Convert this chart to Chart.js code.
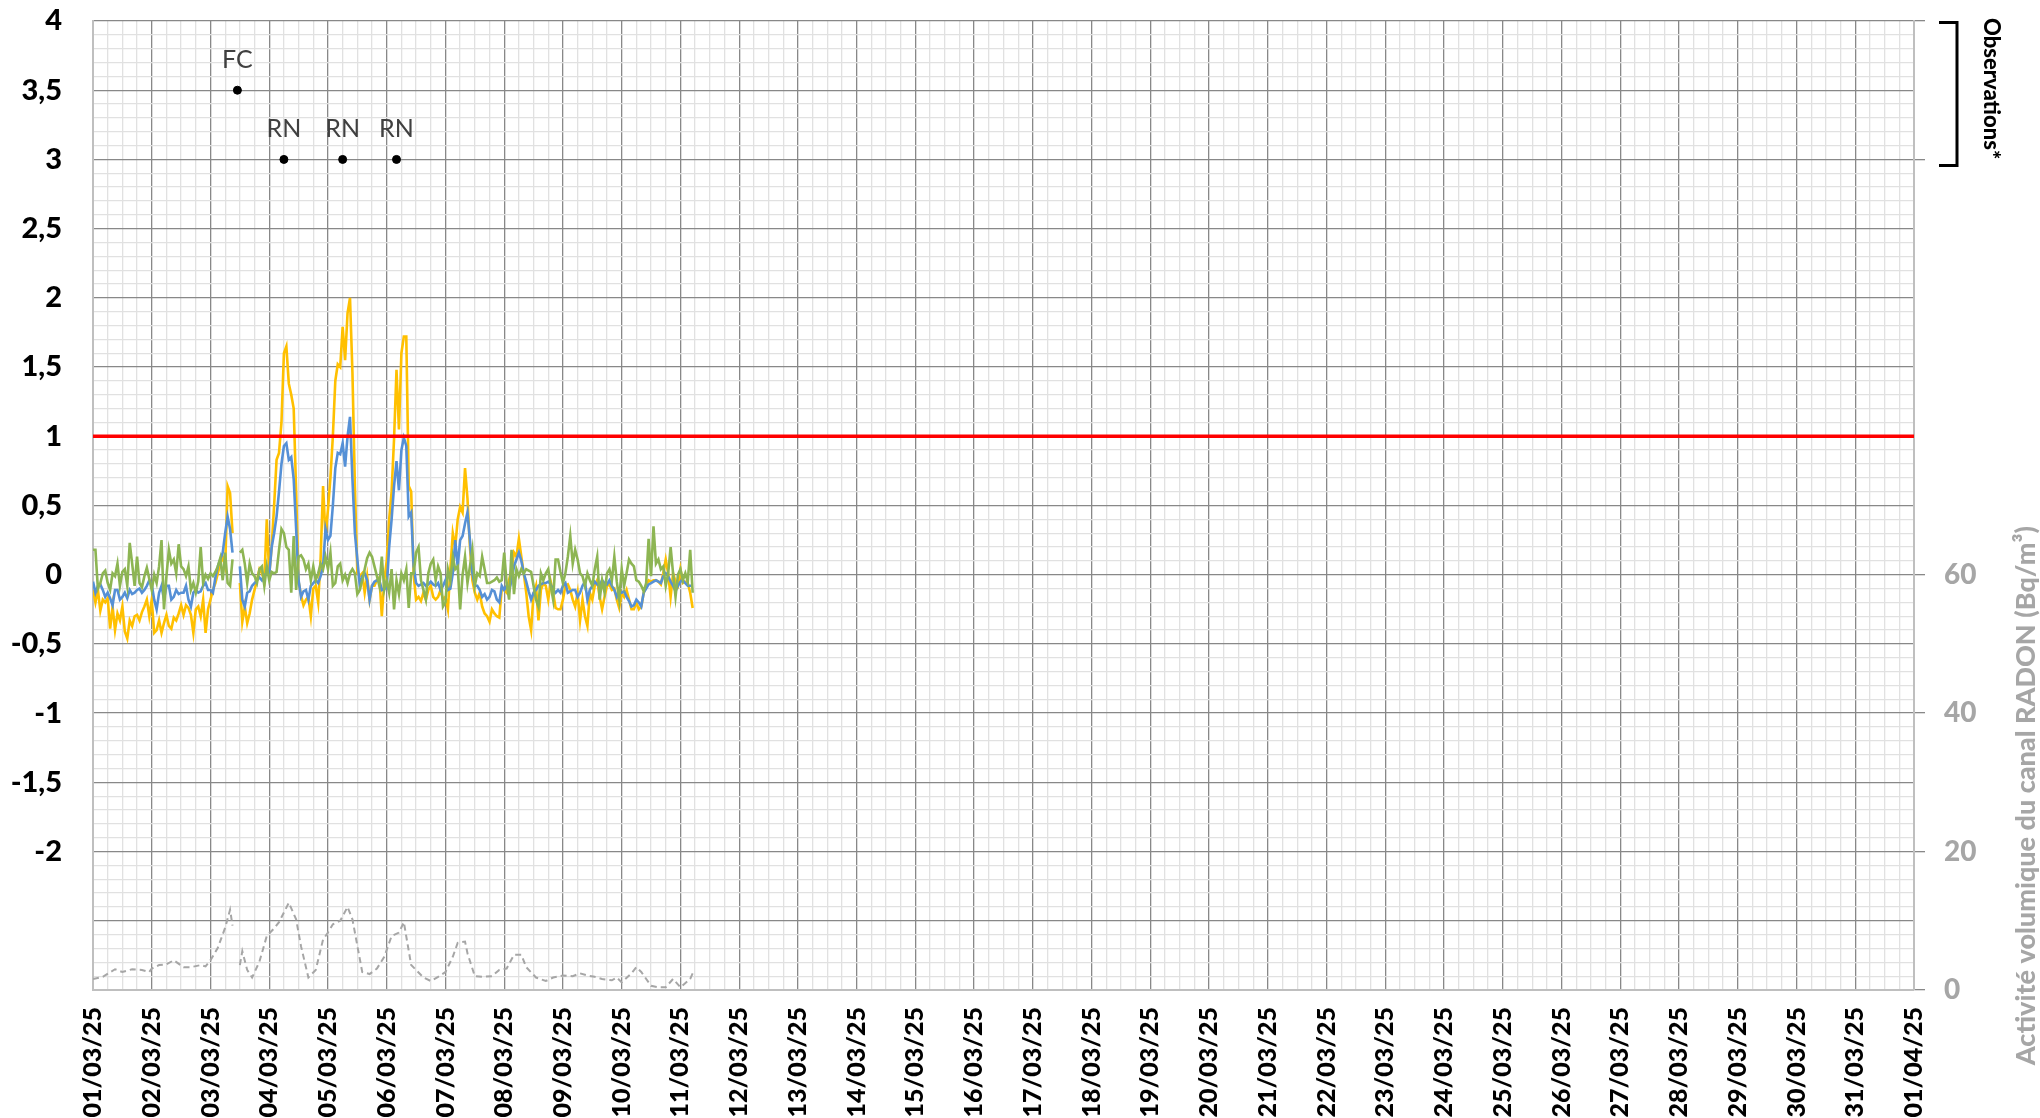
<!DOCTYPE html>
<html lang="fr">
<head>
<meta charset="utf-8">
<title>Activité volumique – mars 2025</title>
<script src="https://cdn.jsdelivr.net/npm/chart.js@4.4.1/dist/chart.umd.min.js"></script>
<style>
  html, body { margin: 0; padding: 0; background: #fff; }
</style>
</head>
<body>
<canvas id="chart" width="2040" height="1118"></canvas>
<script>
// x axis: hours since 01/03/25 00:00, one value per hour (null = data gap)
const HOURS_MAX = 744; // 01/04/25

const yellowSeries = [
  -0.11,-0.20,-0.11,-0.26,-0.18,-0.20,-0.17,-0.39,-0.23,-0.40,-0.28,-0.33,-0.23,-0.41,-0.46,-0.33,-0.37,-0.30,-0.29,-0.33,-0.27,-0.23,-0.18,-0.30,
  -0.18,-0.42,-0.40,-0.33,-0.42,-0.35,-0.29,-0.37,-0.39,-0.31,-0.33,-0.28,-0.22,-0.29,-0.22,-0.24,-0.29,-0.42,-0.25,-0.23,-0.30,-0.18,-0.42,-0.25,
  -0.18,-0.11,-0.06,0.01,0.08,0.13,0.06,0.64,0.59,0.30,null,null,-0.06,-0.34,-0.23,-0.35,-0.28,-0.18,-0.11,-0.04,0.04,0.01,-0.04,0.40,
  0.0,0.2,0.5,0.83,0.88,1.1,1.6,1.65,1.38,1.3,1.2,0.6,-0.05,-0.15,-0.22,-0.18,-0.16,-0.3,-0.1,-0.08,-0.2,0.12,0.64,0.28,
  0.47,0.7,1.0,1.4,1.52,1.5,1.79,1.55,1.89,2.0,1.46,0.64,0.01,-0.01,0.01,-0.13,-0.01,-0.18,-0.08,-0.08,-0.04,-0.02,-0.3,-0.04,
  0.1,0.4,0.6,0.98,1.48,1.05,1.6,1.72,1.72,0.64,0.6,0.0,-0.18,-0.16,-0.19,-0.13,-0.18,-0.11,-0.08,-0.16,-0.18,-0.16,-0.11,-0.18,
  -0.16,-0.25,0.04,0.3,0.2,0.4,0.49,0.45,0.77,0.55,0.2,-0.04,-0.13,-0.18,-0.13,-0.23,-0.28,-0.3,-0.34,-0.25,-0.28,-0.3,-0.31,-0.1,
  -0.11,-0.13,-0.04,0.04,0.16,0.13,0.26,0.13,0.01,-0.13,-0.3,-0.4,-0.14,-0.08,-0.33,-0.11,-0.06,-0.08,-0.18,-0.05,-0.13,-0.24,-0.25,-0.25,
  -0.18,-0.08,-0.07,-0.11,-0.18,-0.23,-0.13,-0.33,-0.18,-0.3,-0.37,-0.13,-0.18,-0.08,-0.04,-0.16,-0.25,-0.16,-0.08,-0.07,-0.11,-0.1,-0.18,-0.24,
  -0.13,-0.16,-0.11,-0.18,-0.25,-0.25,-0.2,-0.25,-0.23,-0.13,-0.08,-0.04,-0.05,-0.04,-0.04,-0.05,-0.07,0.01,0.11,0.01,-0.16,0.01,-0.05,-0.08,
  0.04,-0.06,-0.05,-0.06,-0.13,-0.24
];

const blueSeries = [
  -0.05,-0.13,-0.08,-0.07,-0.11,-0.16,-0.13,-0.17,-0.22,-0.11,-0.11,-0.18,-0.16,-0.13,-0.17,-0.11,-0.14,-0.13,-0.11,-0.10,-0.13,-0.11,-0.08,-0.04,
  -0.07,-0.18,-0.25,-0.13,-0.08,-0.18,-0.08,-0.08,-0.18,-0.16,-0.11,-0.14,-0.13,-0.13,-0.08,-0.18,-0.23,-0.13,-0.11,-0.13,-0.12,-0.08,-0.06,-0.11,
  -0.11,-0.13,-0.02,0.06,0.11,0.16,0.3,0.42,0.33,0.16,null,null,0.06,-0.18,-0.23,-0.13,-0.12,-0.08,-0.06,-0.04,-0.02,-0.04,0.0,0.0,
  0.0,0.2,0.3,0.42,0.6,0.8,0.93,0.95,0.83,0.85,0.69,0.33,-0.04,-0.16,-0.12,-0.11,-0.18,-0.08,-0.06,-0.04,-0.06,-0.01,0.06,0.33,
  0.25,0.28,0.5,0.77,0.88,0.87,0.95,0.78,1.0,1.14,0.69,0.3,0.11,-0.08,-0.01,0.01,-0.04,-0.18,-0.08,-0.05,-0.04,-0.04,-0.11,-0.1,
  -0.1,0.2,0.4,0.64,0.82,0.61,0.9,0.99,0.93,0.42,0.45,0.06,-0.06,-0.08,-0.07,-0.06,-0.08,-0.07,-0.05,-0.07,-0.08,-0.06,-0.11,-0.08,
  -0.04,-0.11,-0.1,0.01,0.25,0.06,0.25,0.28,0.37,0.45,0.25,0.01,-0.08,-0.08,-0.11,-0.16,-0.14,-0.18,-0.16,-0.11,-0.12,-0.18,-0.2,-0.08,
  -0.11,-0.08,-0.12,-0.04,0.06,0.11,0.16,0.1,0.01,-0.05,-0.12,-0.18,-0.13,-0.11,-0.08,-0.07,-0.06,-0.06,-0.05,-0.07,-0.11,-0.13,-0.11,-0.13,
  -0.08,-0.06,-0.13,-0.12,-0.11,-0.11,-0.16,-0.13,-0.08,-0.05,-0.18,-0.11,-0.08,-0.05,-0.07,-0.08,-0.04,-0.06,-0.07,-0.04,-0.08,-0.11,-0.16,-0.11,
  -0.13,-0.12,-0.16,-0.19,-0.23,-0.22,-0.18,-0.2,-0.23,-0.13,-0.1,-0.07,-0.06,-0.05,-0.04,-0.05,-0.06,-0.01,0.01,-0.01,-0.05,-0.08,-0.12,-0.08,
  -0.05,-0.04,-0.06,-0.08,-0.08,-0.08
];

const greenSeries = [
  0.18,0.18,-0.10,-0.06,0.01,0.03,-0.06,-0.11,0.01,-0.01,0.08,-0.08,0.02,0.04,-0.08,0.23,0.08,-0.08,0.13,-0.06,-0.09,-0.01,0.05,-0.03,
  -0.11,0.0,-0.06,0.06,0.25,-0.25,-0.01,0.18,0.08,0.11,0.01,0.22,0.06,0.04,-0.01,0.06,-0.11,-0.06,-0.13,-0.05,0.20,-0.06,0.0,-0.03,
  0.01,-0.01,0.02,0.06,0.12,-0.04,0.16,-0.06,-0.08,0.11,null,null,0.16,0.18,0.08,-0.06,0.08,0.01,-0.01,-0.06,0.04,0.06,-0.08,0.06,
  -0.04,0.02,0.01,0.02,0.18,0.33,0.3,0.2,0.18,-0.13,0.28,-0.11,0.13,0.14,0.11,0.04,0.08,-0.04,0.06,-0.04,0.01,0.08,0.04,0.13,
  0.04,0.16,-0.08,-0.06,0.06,0.08,-0.04,0.0,-0.06,0.01,0.04,0.01,-0.14,-0.11,-0.04,0.04,0.12,0.16,0.13,0.06,-0.01,-0.08,0.13,-0.11,
  -0.04,-0.13,0.04,-0.25,-0.04,-0.14,0.01,-0.04,0.04,-0.24,0.01,0.01,0.16,0.2,-0.04,-0.11,-0.18,0.01,0.08,0.11,-0.04,0.06,0.01,-0.23,
  -0.2,0.04,-0.04,0.13,0.04,0.06,-0.25,0.0,0.13,-0.06,0.06,0.18,-0.08,0.01,-0.01,0.13,0.04,-0.06,-0.06,-0.05,-0.04,-0.02,-0.05,-0.04,
  0.16,-0.06,-0.18,0.18,-0.14,0.04,-0.01,0.04,0.01,0.04,0.03,0.02,-0.08,-0.18,-0.23,0.01,-0.04,0.01,0.04,-0.08,-0.18,0.11,0.11,0.02,
  -0.06,0.01,0.13,0.28,0.08,0.18,0.11,0.01,-0.01,-0.08,0.01,-0.04,-0.08,0.04,0.13,-0.18,-0.04,-0.13,0.01,0.04,-0.04,0.13,-0.05,-0.18,
  0.04,-0.08,0.01,0.11,0.08,0.06,-0.04,-0.05,-0.08,-0.12,-0.06,0.26,-0.01,0.35,0.08,0.11,0.04,0.06,-0.08,0.01,0.2,0.01,-0.16,0.0,
  0.04,-0.04,0.01,-0.05,0.18,-0.13
];

// radon channel (right axis, Bq/m3), read at irregular hours
const radonHours = [
  0,4,9,12,16,20,23,24,27,30,33,37,40,44,46,48,51,54,56,57,
  59,60,61,63,65,68,71,74,76,80,83,85,88,91,94,96,98,101,104,106,
  110,113,116,119,122,125,127,130,132,135,138,141,144,147,149,152,153,156,159,163,
  166,169,172,175,177,181,185,188,192,196,199,202,205,208,212,214,216,220,222,224,
  228,231,234,237,240,244,245
];
const radonValues = [
  1.6,1.9,3.0,2.6,3.0,2.9,2.6,3.1,3.6,3.7,4.3,3.3,3.3,3.6,3.4,4.3,6.1,9.0,11.6,9.3,
  null,3.6,5.6,2.9,1.8,4.1,7.8,8.9,9.8,12.6,10.2,6.3,1.8,2.9,7.3,8.3,9.5,10.0,12.0,10.2,
  2.6,2.3,3.1,4.8,7.8,8.3,9.8,3.6,2.9,1.8,1.3,1.9,2.6,4.8,6.8,7.0,5.3,2.0,1.9,2.0,
  2.9,3.1,5.1,5.1,3.3,1.8,1.3,1.8,2.1,2.0,2.4,2.1,1.9,1.6,1.4,1.8,1.1,2.4,3.3,2.6,
  0.6,0.4,0.4,1.6,0.4,1.6,2.4
];

// observations
const obsHours  = [59, 78, 102, 124];
const obsLevels = [3.5, 3, 3, 3];
const obsLabels = ['FC', 'RN', 'RN', 'RN'];

const threshold = 1;

const C_MAJOR = '#888888';
const C_MINOR = '#e1e1e1';
const C_BORDER = '#bfbfbf';
const FONT = 'Lato, "Open Sans", sans-serif';
const HEAVY = 900;

const pad2 = n => (n < 10 ? '0' : '') + n;
const dayLabel = d => d < 31 ? pad2(d + 1) + '/03/25' : pad2(d - 30) + '/04/25';
const isMajor = v => Math.abs(Math.round(v * 10)) % 5 === 0;
const fmtFr = v => { const r = Math.round(v * 10) / 10; return r === 0 ? '0' : String(r).replace('.', ','); };
const toXY = arr => arr.map((v, i) => ({ x: i, y: v }));

// keep the plot area where the reference has it
const fixVertical = w => s => { s.width = w; s.paddingTop = 0; s.paddingBottom = 0; };
const fixHorizontal = h => s => { s.height = h; s.paddingLeft = 0; s.paddingRight = 0; };

const decor = {
  id: 'decor',
  afterDraw(chart) {
    const { ctx } = chart;
    const yL = chart.scales.y;
    ctx.save();
    // observation labels above the points
    const meta = chart.getDatasetMeta(0);
    ctx.font = '25px ' + FONT;
    ctx.fillStyle = '#404040';
    ctx.textAlign = 'center';
    ctx.textBaseline = 'alphabetic';
    meta.data.forEach((pt, i) => ctx.fillText(obsLabels[i], pt.x, pt.y - 22));

    // bracket for the observations band
    const top = yL.getPixelForValue(4) + 1.5;
    const bot = yL.getPixelForValue(3) + 6;
    ctx.strokeStyle = '#000';
    ctx.lineWidth = 3;
    ctx.beginPath();
    ctx.moveTo(1939, top); ctx.lineTo(1957, top); ctx.lineTo(1957, bot); ctx.lineTo(1939, bot);
    ctx.stroke();

    ctx.fillStyle = '#000';
    ctx.font = HEAVY + ' 22px ' + FONT;
    ctx.save();
    ctx.translate(1991, 18);
    ctx.rotate(Math.PI / 2);
    ctx.textAlign = 'left';
    ctx.textBaseline = 'middle';
    ctx.fillText('Observations*', 0, 0);
    ctx.restore();

    // right axis title, reading bottom to top
    ctx.fillStyle = '#a6a6a6';
    ctx.font = HEAVY + ' 27px ' + FONT;
    ctx.translate(2026, 526);
    ctx.rotate(-Math.PI / 2);
    ctx.textAlign = 'right';
    ctx.textBaseline = 'middle';
    ctx.fillText('Activité volumique du canal RADON (Bq/m³)', 0, 0);
    ctx.restore();
  }
};

const lineDs = (data, color, order) => ({
  data: toXY(data), borderColor: color, borderWidth: 2.6, pointRadius: 0,
  tension: 0, spanGaps: false, yAxisID: 'y', order: order
});

new Chart(document.getElementById('chart'), {
  type: 'line',
  data: {
    datasets: [
      {
        data: obsHours.map((h, i) => ({ x: h, y: obsLevels[i] })),
        showLine: false, pointRadius: 4, pointBackgroundColor: '#000', pointBorderColor: '#000',
        yAxisID: 'y', order: 0
      },
      {
        data: [{ x: 0, y: threshold }, { x: HOURS_MAX, y: threshold }],
        borderColor: '#ff0000', borderWidth: 3.5, pointRadius: 0, yAxisID: 'y', order: 1
      },
      lineDs(greenSeries, '#8db553', 2),
      lineDs(blueSeries, '#5590d6', 3),
      lineDs(yellowSeries, '#ffc000', 4),
      {
        data: radonHours.map((h, i) => ({ x: h, y: radonValues[i] })),
        borderColor: '#a6a6a6', borderWidth: 2, borderDash: [6, 4], pointRadius: 0,
        tension: 0, spanGaps: false, yAxisID: 'y2', order: 5
      }
    ]
  },
  options: {
    responsive: false,
    animation: false,
    devicePixelRatio: 1,
    layout: { padding: { top: 21, left: 0, right: 0, bottom: 0 } },
    plugins: { legend: { display: false }, tooltip: { enabled: false } },
    scales: {
      x: {
        type: 'linear', min: 0, max: HOURS_MAX,
        afterFit: fixHorizontal(128),
        border: { color: C_BORDER, width: 2 },
        grid: {
          color: c => (c.tick && c.tick.value % 24 === 0) ? C_MAJOR : C_MINOR,
          lineWidth: 1.3, drawTicks: false
        },
        ticks: {
          stepSize: 6, autoSkip: false, maxTicksLimit: 1000,
          minRotation: 90, maxRotation: 90, padding: 17,
          color: '#000', font: { family: FONT, size: 25, weight: HEAVY },
          callback: v => v % 24 === 0 ? dayLabel(v / 24) : ''
        }
      },
      y: {
        type: 'linear', position: 'left', min: -3, max: 4,
        afterFit: fixVertical(93),
        border: { color: C_BORDER, width: 2 },
        grid: {
          color: c => (c.tick && isMajor(c.tick.value)) ? C_MAJOR : C_MINOR,
          lineWidth: 1.3, drawTicks: false
        },
        ticks: {
          stepSize: 0.1, autoSkip: false, maxTicksLimit: 1000, padding: 31,
          color: '#000', font: { family: FONT, size: 29, weight: HEAVY },
          callback: v => (isMajor(v) && v >= -2.01) ? fmtFr(v) : ''
        }
      },
      y2: {
        type: 'linear', position: 'right', min: 0, max: 140,
        afterFit: fixVertical(126),
        border: { color: C_BORDER, width: 2 },
        grid: {
          drawOnChartArea: false, drawTicks: true, tickLength: 11,
          tickColor: c => (c.tick && (c.tick.value <= 60 || c.tick.value >= 120)) ? C_MAJOR : 'rgba(0,0,0,0)',
          lineWidth: 1.3
        },
        ticks: {
          stepSize: 20, autoSkip: false, padding: 19,
          color: '#a6a6a6', font: { family: FONT, size: 28, weight: HEAVY },
          callback: v => v <= 60 ? String(v) : ''
        }
      }
    }
  },
  plugins: [decor]
});
</script>
</body>
</html>
